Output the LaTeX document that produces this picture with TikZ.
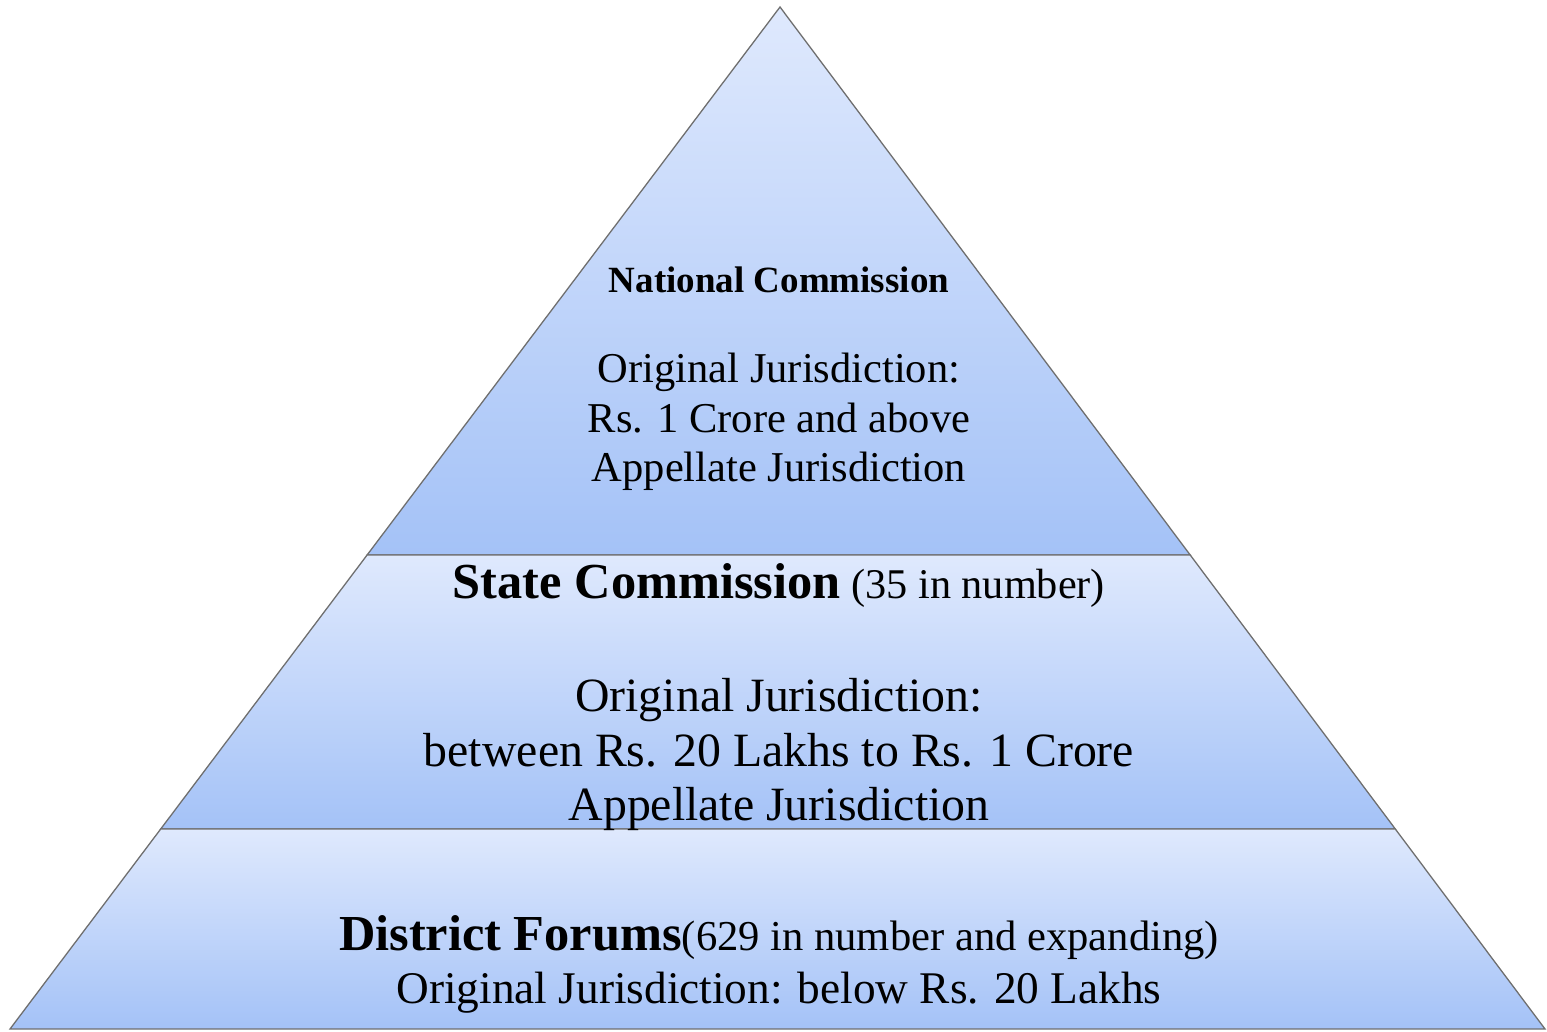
\documentclass[tikz,border=0pt]{standalone}
\usepackage{fontspec}
\setmainfont{Liberation Serif}
\definecolor{tiertop}{HTML}{DFE9FD}
\definecolor{tierbot}{HTML}{A4C2F7}
\definecolor{edgegray}{HTML}{6F6F6F}
\newcommand{\fsz}[1]{\fontsize{#1}{#1}\selectfont}
\begin{document}
\begin{tikzpicture}[x=1pt,y=-1pt,
  tier/.style={draw=edgegray, line width=1.3pt, top color=tiertop, bottom color=tierbot, line join=miter},
  txt/.style={anchor=base, inner sep=0pt, text=black}]
\useasboundingbox (0,0) rectangle (1547,1031);
\coordinate (apex) at (780,7);
\coordinate (l1) at (367.1,555);
\coordinate (r1) at (1190.2,555);
\coordinate (l2) at (160.7,829);
\coordinate (r2) at (1395.3,829);
\coordinate (l3) at (10,1029);
\coordinate (r3) at (1545,1029);
\path[tier] (apex) -- (r1) -- (l1) -- cycle;
\path[tier] (l1) -- (r1) -- (r2) -- (l2) -- cycle;
\path[tier] (l2) -- (r2) -- (r3) -- (l3) -- cycle;
% top tier
\node[txt, font=\fsz{37}\bfseries] (nc) at (779,292) {National Commission};
\node[txt, font=\fsz{42.5}] (nc1) at (779,382) {Original Jurisdiction:};
\node[txt, font=\fsz{42.5}] (nc2) at (779,432) {Rs. 1 Crore and above};
\node[txt, font=\fsz{42.5}] (nc3) at (779,481) {Appellate Jurisdiction};
% middle tier
\node[txt] (sc) at (779,598) {{\fsz{50.4}\bfseries State Commission}{\fsz{42.3}\ (35 in number)}};
\node[txt, font=\fsz{47.8}] (sc1) at (779,711) {Original Jurisdiction:};
\node[txt, font=\fsz{47.8}] (sc2) at (779,766) {between Rs. 20 Lakhs to Rs. 1 Crore};
\node[txt, font=\fsz{47.8}] (sc3) at (779,820) {Appellate Jurisdiction};
% bottom tier
\node[txt] (df) at (779,950) {{\fsz{50.4}\bfseries District Forums}{\fsz{42.6}(629 in number and expanding)}};
\node[txt, font=\fsz{45.3}] (df1) at (779,1003) {Original Jurisdiction: below Rs. 20 Lakhs};
\end{tikzpicture}
\end{document}
